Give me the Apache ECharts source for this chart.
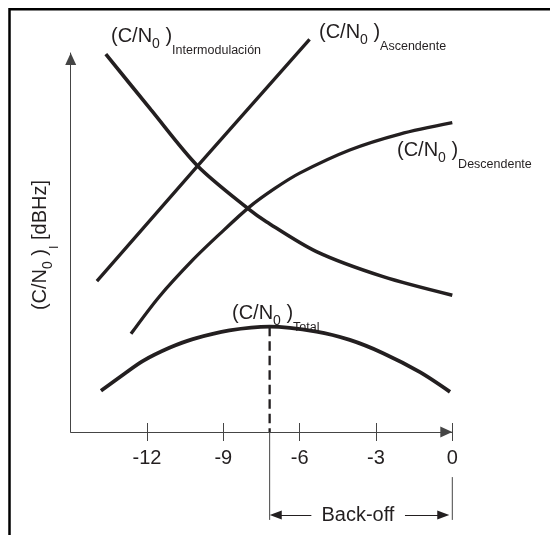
<!DOCTYPE html>
<html><head><meta charset="utf-8">
<script src="https://cdn.jsdelivr.net/npm/echarts@6/dist/echarts.min.js"></script>
<style>html,body{margin:0;padding:0;background:#fff}#c{width:550px;height:535px}</style>
</head><body><div id="c"></div>
<script>
// ---- data (x: back-off in dB, y: relative C/N0 level, arbitrary units) ----
const xTickValues = [-12, -9, -6, -3, 0];
const xMin = -15, xMax = 0;
const intermodulacion = [[-13.62, 99.7], [-11.84, 85.0], [-10.01, 70.2], [-8.04, 59.0], [-7.31, 55.5], [-5.34, 47.6], [-2.72, 41.0], [0, 36.1]];
const ascendente = [[-13.97, 39.8], [-10.01, 70.2], [-5.61, 103.6]];
const descendente = [[-12.63, 25.9], [-11.52, 35.7], [-10.2, 45.4], [-9.15, 52.2], [-7.97, 59.4], [-6.99, 64.2], [-6.0, 68.3], [-4.03, 74.4], [-2.06, 78.6], [0, 81.6]];
const total = [[-13.81, 10.9], [-12.9, 15.3], [-12.17, 18.7], [-11.12, 22.2], [-10.2, 24.5], [-8.76, 26.8], [-7.18, 27.8], [-5.34, 26.5], [-4.03, 24.3], [-2.72, 20.8], [-1.27, 15.8], [-0.09, 10.6]];
const peakX = -7.18, peakY = 27.8;
// back-off bracket (lower helper grid)
const backoffArrowY = -21.9, backoffBottom = -23.2, zeroLineTop = -11.9;

const FONT = "'Liberation Sans', Arial, sans-serif";
const INK = '#231f20';
const AXIS = '#454545';

const chart = echarts.init(document.getElementById('c'), null, {renderer: 'canvas'});

function curve(name, data, width, smooth) {
  return {name, type: 'line', xAxisIndex: 0, yAxisIndex: 0, data, smooth, symbol: 'none', clip: false, silent: true,
    lineStyle: {color: INK, width, cap: 'butt'}};
}
const rich = {
  m: {fontSize: 20, lineHeight: 24, verticalAlign: 'top', fill: INK, fontFamily: FONT},
  z: {fontSize: 14, lineHeight: 14, padding: [11, 0, 0, 0], verticalAlign: 'top', fill: INK, fontFamily: FONT},
  s: {fontSize: 12.5, lineHeight: 13, padding: [18, 0, 0, 0], verticalAlign: 'top', fill: INK, fontFamily: FONT}
};
function label(x, y, sub) {
  return {type: 'text', x, y, silent: true,
    style: {text: '{m|(C/N}{z|0}{m| )}{s|' + sub + '}', rich, align: 'left', verticalAlign: 'top', fill: INK}};
}

const option = {
  animation: false,
  backgroundColor: '#fff',
  grid: [
    {left: 70.7, right: 97.7, top: 53, bottom: 103},
    {left: 70.7, right: 97.7, top: 432, bottom: 13}
  ],
  xAxis: [
    {gridIndex: 0, type: 'value', min: xMin, max: xMax, interval: 3,
      axisLine: {show: true, onZero: false, symbol: ['none', 'triangle'], symbolSize: [11, 12], symbolOffset: [0, -6], lineStyle: {color: AXIS, width: 1}},
      axisTick: {show: true, length: 9, customValues: xTickValues, lineStyle: {color: AXIS, width: 1}},
      axisLabel: {show: true, customValues: xTickValues, fontSize: 20, color: INK, fontFamily: FONT, margin: 16},
      splitLine: {show: false}},
    {gridIndex: 0, type: 'value', min: xMin, max: xMax, interval: 3, position: 'bottom',
      axisLine: {show: false},
      axisTick: {show: true, inside: true, length: 9, customValues: xTickValues, lineStyle: {color: AXIS, width: 1}},
      axisLabel: {show: false}, splitLine: {show: false}},
    {gridIndex: 1, type: 'value', min: xMin, max: xMax, show: false}
  ],
  yAxis: [
    {gridIndex: 0, type: 'value', min: 0, max: 100,
      axisLine: {show: true, onZero: false, symbol: ['none', 'triangle'], symbolSize: [11, 12], symbolOffset: [0, -6], lineStyle: {color: AXIS, width: 1}},
      axisTick: {show: false}, axisLabel: {show: false}, splitLine: {show: false}},
    {gridIndex: 1, type: 'value', min: -23.75, max: 0, show: false}
  ],
  series: [
    curve('Intermodulación', intermodulacion, 3.6, 0.3),
    curve('Ascendente', ascendente, 3.3, false),
    curve('Descendente', descendente, 3.3, 0.3),
    curve('Total', total, 3.8, 0.3),
    {type: 'line', xAxisIndex: 0, yAxisIndex: 0, data: [[peakX, peakY], [peakX, 0]], symbol: 'none', silent: true,
      lineStyle: {color: INK, width: 2.3, type: [9.5, 5]}},
    {type: 'line', xAxisIndex: 2, yAxisIndex: 1, data: [[peakX, 0], [peakX, backoffBottom]], symbol: 'none', silent: true,
      lineStyle: {color: AXIS, width: 1}},
    {type: 'line', xAxisIndex: 2, yAxisIndex: 1, data: [[0, zeroLineTop], [0, backoffBottom]], symbol: 'none', silent: true,
      lineStyle: {color: AXIS, width: 1},
      markLine: {silent: true, symbol: 'none', symbolSize: [9, 12], label: {show: false},
        lineStyle: {color: INK, width: 1, type: 'solid'},
        data: [
          [{coord: [peakX + 0.24, backoffArrowY], symbol: 'triangle'}, {coord: [-5.54, backoffArrowY], symbol: 'none'}],
          [{coord: [-1.86, backoffArrowY], symbol: 'none'}, {coord: [-0.355, backoffArrowY], symbol: 'triangle'}]
        ]},
      markPoint: {silent: true, symbol: 'rect', symbolSize: 1, itemStyle: {color: 'rgba(255,255,255,0)'},
        label: {show: true, position: 'inside', formatter: 'Back-off', fontSize: 20, color: INK, fontFamily: FONT},
        data: [{coord: [(peakX + 0) / 2 - 0.12, backoffArrowY]}]}
    }
  ],
  graphic: [
    {type: 'polyline', silent: true, shape: {points: [[9.5, 535], [9.5, 9.3], [550, 9.3]]}, style: {stroke: '#000', lineWidth: 2.5, fill: null}},
    label(111, 26.3, 'Intermodulación'),
    label(319, 22.5, 'Ascendente'),
    label(397, 140.5, 'Descendente'),
    label(232, 303, 'Total'),
    {type: 'text', x: 42.5, y: 245, rotation: Math.PI / 2, silent: true,
      style: {text: '{m|(C/N}{z|0}{m| )}{s|I}{m| [dBHz]}', rich, align: 'center', verticalAlign: 'middle', fill: INK}}
  ]
};
chart.setOption(option);
</script>
</body></html>
